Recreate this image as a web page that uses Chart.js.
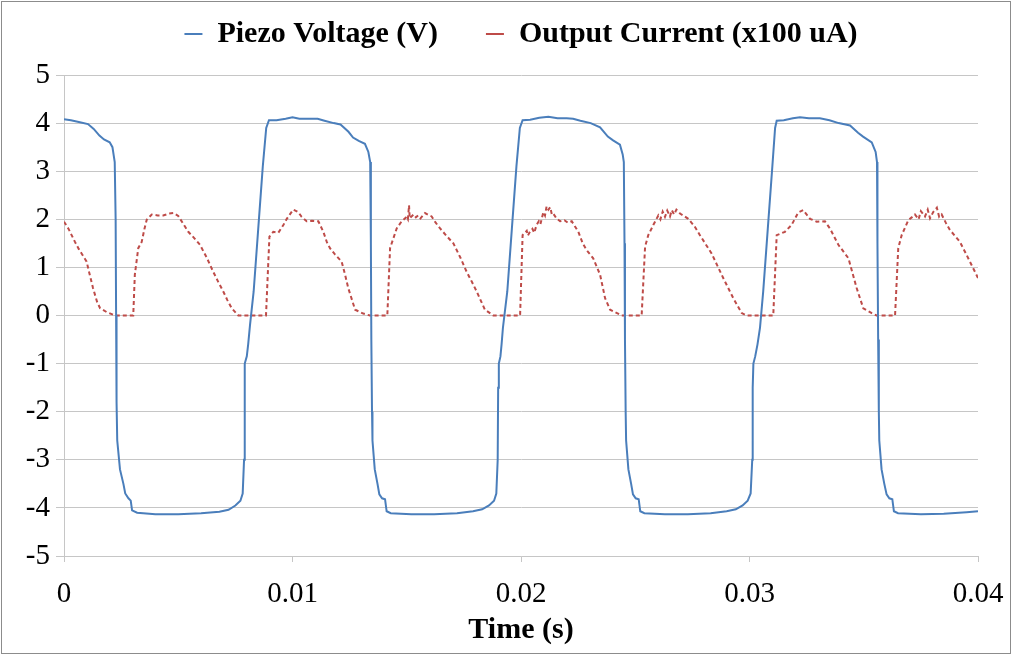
<!DOCTYPE html>
<html>
<head>
<meta charset="utf-8">
<script src="https://cdn.jsdelivr.net/npm/chart.js@4.4.1/dist/chart.umd.min.js"></script>
<style>
  html, body { margin: 0; padding: 0; background: #fff; }
  #wrap { width: 1013px; height: 656px; }
</style>
</head>
<body>
<div id="wrap"><canvas id="chart" width="1013" height="656"></canvas></div>
<script>
// piezo voltage trace (time in s, volts)
var voltTime = [
  0, 0.0003, 0.0006, 0.00105, 0.0013, 0.00155, 0.00175, 0.002, 0.00212, 0.00222,
  0.00226, 0.00228, 0.0023, 0.00233, 0.00245, 0.0026, 0.00268, 0.00282, 0.00292, 0.00298,
  0.0032, 0.004, 0.005, 0.006, 0.0068, 0.0072, 0.0075, 0.00772, 0.00782, 0.00788,
  0.0079, 0.00792, 0.008, 0.00806, 0.00814, 0.0083, 0.0085, 0.0087, 0.00885, 0.00897,
  0.0093, 0.0097, 0.01, 0.0103, 0.0106, 0.0111, 0.0114, 0.0118, 0.0121, 0.01245,
  0.01265, 0.0129, 0.01317, 0.01332, 0.0134, 0.01343, 0.01345, 0.01348, 0.0135, 0.0136,
  0.01372, 0.0138, 0.01392, 0.01405, 0.01412, 0.0143, 0.0152, 0.0162, 0.0172, 0.0179,
  0.0183, 0.0186, 0.01882, 0.01892, 0.01898, 0.019, 0.01903, 0.0191, 0.01915, 0.01921,
  0.0194, 0.0196, 0.0198, 0.01995, 0.02007, 0.0204, 0.0208, 0.0212, 0.0216, 0.022,
  0.02228, 0.0226, 0.02305, 0.02346, 0.0238, 0.02403, 0.02433, 0.02445, 0.0245, 0.02453,
  0.02455, 0.02458, 0.0246, 0.0247, 0.02482, 0.0249, 0.02502, 0.02515, 0.02522, 0.0254,
  0.0263, 0.0273, 0.0283, 0.029, 0.0294, 0.0297, 0.02992, 0.03005, 0.03012, 0.03014,
  0.03017, 0.03025, 0.03035, 0.03046, 0.0306, 0.0308, 0.031, 0.03112, 0.03119, 0.0315,
  0.0319, 0.03221, 0.0326, 0.03308, 0.0335, 0.0339, 0.0344, 0.03475, 0.03497, 0.03535,
  0.03552, 0.03558, 0.0356, 0.03563, 0.03566, 0.03568, 0.03578, 0.0359, 0.036, 0.03612,
  0.03625, 0.03632, 0.0365, 0.0375, 0.0385, 0.0395, 0.04
];
var voltage = [
  4.08, 4.06, 4.03, 3.98, 3.88, 3.74, 3.66, 3.6, 3.5, 3.19,
  2.0, 0.0, -1.8, -2.6, -3.2, -3.5, -3.7, -3.8, -3.85, -4.05,
  -4.1, -4.13, -4.13, -4.11, -4.08, -4.04, -3.95, -3.85, -3.7, -3.0,
  -1.5, -1.0, -0.85, -0.6, -0.2, 0.5, 1.8, 3.1, 3.9, 4.06,
  4.06, 4.09, 4.12, 4.09, 4.09, 4.09, 4.05, 4.0, 3.97, 3.82,
  3.7, 3.63, 3.57, 3.4, 3.19, 1.5, -0.5, -2.0, -2.6, -3.2,
  -3.5, -3.72, -3.8, -3.82, -4.07, -4.11, -4.13, -4.13, -4.11, -4.07,
  -4.03, -3.95, -3.85, -3.7, -3.0, -1.5, -1.0, -0.85, -0.6, -0.25,
  0.5, 1.8, 3.1, 3.9, 4.06, 4.07, 4.11, 4.13, 4.1, 4.1,
  4.09, 4.05, 4.0, 3.91, 3.72, 3.64, 3.55, 3.35, 3.19, 1.5,
  -0.5, -2.0, -2.6, -3.2, -3.5, -3.72, -3.8, -3.82, -4.07, -4.11,
  -4.13, -4.13, -4.11, -4.07, -4.03, -3.95, -3.85, -3.7, -3.0, -1.5,
  -1.0, -0.85, -0.6, -0.25, 0.5, 1.8, 3.1, 3.9, 4.05, 4.06,
  4.1, 4.12, 4.1, 4.1, 4.06, 4.0, 3.95, 3.8, 3.72, 3.6,
  3.4, 3.19, 1.5, -0.5, -2.0, -2.6, -3.2, -3.5, -3.72, -3.8,
  -3.82, -4.07, -4.11, -4.13, -4.12, -4.09, -4.07
];

// output current trace (time in s, x100 uA)
var currTime = [
  0, 0.0002, 0.00048, 0.00065, 0.00077, 0.00099, 0.0011, 0.00127, 0.00145, 0.00158,
  0.00187, 0.00223, 0.00303, 0.0031, 0.00325, 0.0034, 0.00352, 0.00362, 0.00384, 0.0041,
  0.00434, 0.0046, 0.0048, 0.005, 0.0052, 0.00544, 0.00568, 0.00595, 0.00625, 0.00653,
  0.00675, 0.00697, 0.00715, 0.00734, 0.00763, 0.00884, 0.00899, 0.00916, 0.00938, 0.0096,
  0.00975, 0.01003, 0.01025, 0.0104, 0.01062, 0.01085, 0.01113, 0.01135, 0.0115, 0.01164,
  0.01186, 0.01215, 0.0123, 0.01244, 0.01274, 0.0131, 0.01339, 0.01415, 0.01427, 0.01456,
  0.01478, 0.015, 0.01505, 0.0151, 0.01513, 0.0153, 0.0154, 0.0155, 0.0156, 0.0158,
  0.01595, 0.01609, 0.01625, 0.01646, 0.01675, 0.01704, 0.01735, 0.01762, 0.01785, 0.01806,
  0.01825, 0.01842, 0.01879, 0.01996, 0.02007, 0.02025, 0.0203, 0.02039, 0.0205, 0.02058,
  0.02068, 0.02078, 0.02085, 0.02098, 0.02105, 0.02112, 0.0212, 0.02128, 0.02135, 0.02141,
  0.02155, 0.02171, 0.0219, 0.02205, 0.02222, 0.02251, 0.0227, 0.02287, 0.02316, 0.02346,
  0.02368, 0.0239, 0.02441, 0.02528, 0.02543, 0.02557, 0.02579, 0.02601, 0.0261, 0.0262,
  0.0263, 0.0264, 0.02652, 0.0266, 0.0267, 0.0268, 0.02696, 0.0271, 0.02732, 0.0276,
  0.02783, 0.02834, 0.02885, 0.02929, 0.02966, 0.02988, 0.03104, 0.03119, 0.03155, 0.03184,
  0.03213, 0.03235, 0.03265, 0.03294, 0.0333, 0.03352, 0.03389, 0.03433, 0.03469, 0.03498,
  0.03535, 0.03556, 0.03637, 0.03651, 0.03666, 0.03695, 0.0371, 0.03724, 0.0374, 0.0375,
  0.03768, 0.0378, 0.0379, 0.03804, 0.0382, 0.0383, 0.03841, 0.0386, 0.03877, 0.039,
  0.03921, 0.0395, 0.04
];
var current = [
  1.95, 1.8, 1.53, 1.38, 1.29, 1.12, 0.9, 0.57, 0.28, 0.15,
  0.07, 0.0, 0.0, 0.85, 1.4, 1.53, 1.8, 1.99, 2.1, 2.08,
  2.08, 2.12, 2.13, 2.07, 1.92, 1.74, 1.62, 1.47, 1.2, 0.91,
  0.7, 0.5, 0.32, 0.15, 0.0, 0.0, 1.64, 1.74, 1.72, 1.88,
  2.01, 2.2, 2.15, 2.05, 1.96, 1.97, 1.96, 1.74, 1.53, 1.4,
  1.27, 1.12, 0.85, 0.57, 0.12, 0.04, 0.0, 0.0, 1.4, 1.81,
  1.96, 2.05, 2.0, 2.29, 2.02, 2.1, 2.04, 2.08, 2.02, 2.13,
  2.09, 2.06, 1.94, 1.81, 1.65, 1.5, 1.2, 0.91, 0.7, 0.5,
  0.3, 0.12, 0.0, 0.0, 1.67, 1.76, 1.66, 1.74, 1.8, 1.72,
  1.88, 1.96, 1.9, 2.15, 2.08, 2.27, 2.2, 2.25, 2.1, 2.12,
  2.02, 1.96, 1.98, 1.93, 1.96, 1.74, 1.5, 1.36, 1.19, 0.85,
  0.36, 0.12, 0.0, 0.0, 1.43, 1.67, 1.88, 2.08, 2.0, 2.16,
  2.05, 2.18, 2.06, 2.19, 2.1, 2.2, 2.12, 2.08, 2.01, 1.85,
  1.67, 1.29, 0.78, 0.36, 0.05, 0.0, 0.0, 1.67, 1.74, 1.88,
  2.14, 2.19, 2.01, 1.95, 1.96, 1.81, 1.47, 1.19, 0.57, 0.15,
  0.05, 0.0, 0.0, 1.4, 1.67, 1.98, 2.04, 2.1, 2.0, 2.17,
  2.06, 2.2, 2.02, 2.15, 2.24, 2.05, 2.1, 1.92, 1.78, 1.65,
  1.53, 1.26, 0.78
];

var xTicks = [0, 0.01, 0.02, 0.03, 0.04];
var xTickLabels = ["0", "0.01", "0.02", "0.03", "0.04"];

function toPoints(xs, ys) {
  var pts = [];
  for (var i = 0; i < xs.length; i++) {
    pts.push({ x: xs[i], y: ys[i] });
  }
  return pts;
}

var GRID = "#C6C6C6";
var SERIF = "'Liberation Serif', 'Times New Roman', serif";

// thin frame round the whole picture
var framePlugin = {
  id: "frame",
  afterDraw: function (chart) {
    var ctx = chart.ctx;
    ctx.save();
    ctx.strokeStyle = "#8C8C8C";
    ctx.lineWidth = 1;
    ctx.strokeRect(1.5, 1.5, chart.width - 4, chart.height - 4);
    ctx.restore();
  },
};

new Chart(document.getElementById("chart"), {
  type: "scatter",
  data: {
    datasets: [
      {
        label: "Piezo Voltage (V)",
        data: toPoints(voltTime, voltage),
        showLine: true,
        borderColor: "#4A7EBB",
        backgroundColor: "#4A7EBB",
        borderWidth: 2,
        pointRadius: 0,
        tension: 0,
        xAxisID: "x",
      },
      {
        label: "Output Current (x100 uA)",
        data: toPoints(currTime, current),
        showLine: true,
        borderColor: "#BE4B48",
        backgroundColor: "#BE4B48",
        borderWidth: 2,
        borderDash: [4, 3],
        pointRadius: 0,
        tension: 0,
        xAxisID: "x",
      },
    ],
  },
  options: {
    responsive: false,
    animation: false,
    events: [],
    layout: { padding: { top: -29, right: 35, bottom: 8, left: 0 } },
    plugins: {
      legend: {
        display: true,
        position: "top",
        fullSize: false,
        labels: {
          color: "#000",
          font: { family: SERIF, size: 30, weight: "bold" },
          usePointStyle: true,
          pointStyle: "line",
          pointStyleWidth: 18,
          padding: 48,
        },
      },
      tooltip: { enabled: false },
    },
    scales: {
      x: {
        type: "linear",
        min: 0,
        max: 0.04,
        afterFit: function (s) { s.height = 92; s.paddingRight = 0; s.paddingLeft = 0; },
        afterBuildTicks: function (s) {
          s.ticks = xTicks.map(function (v) { return { value: v }; });
        },
        ticks: {
          color: "#000",
          font: { family: SERIF, size: 29 },
          padding: 15,
          maxRotation: 0,
          callback: function (v) {
            var i = xTicks.indexOf(v);
            return i >= 0 ? xTickLabels[i] : "";
          },
        },
        grid: { display: true, drawOnChartArea: false, drawTicks: true, tickLength: 6, color: GRID },
        border: { display: true, color: GRID },
        title: {
          display: true,
          text: "Time (s)",
          color: "#000",
          font: { family: SERIF, size: 30, weight: "bold" },
          padding: { top: 0, bottom: 0 },
        },
      },
      // empty strip between the legend and the plot
      gap: {
        type: "linear",
        position: "top",
        min: 0,
        max: 1,
        afterFit: function (s) { s.height = 16; s.paddingRight = 0; s.paddingLeft = 0; },
        ticks: { display: false },
        grid: { display: false },
        border: { display: false },
      },
      y: {
        min: -5,
        max: 5,
        afterFit: function (s) { s.width = 64; },
        ticks: {
          stepSize: 1,
          color: "#000",
          font: { family: SERIF, size: 29 },
          padding: 6,
        },
        grid: { color: GRID, tickLength: 8, drawTicks: true },
        border: { display: true, color: GRID },
      },
    },
  },
  plugins: [framePlugin],
});
</script>
</body>
</html>
